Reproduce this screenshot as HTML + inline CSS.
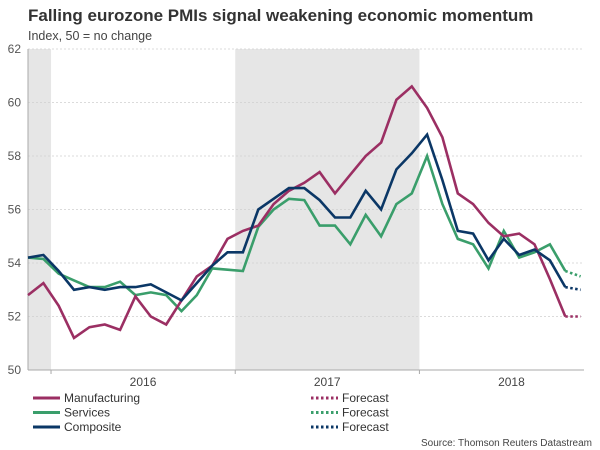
<!DOCTYPE html>
<html><head><meta charset="utf-8"><style>
body{margin:0;background:#fff;font-family:"Liberation Sans",sans-serif;}
#wrap{position:relative;width:600px;height:450px;overflow:hidden}
</style></head><body>
<div id="wrap">
<svg id="svg" width="600" height="450"></svg>
</div>
<script>
const yTicks=[50,52,54,56,58,60,62];
const years=["2016","2017","2018"];
const manufacturing=[52.8,53.25,52.4,51.2,51.6,51.7,51.5,52.75,52.0,51.7,52.6,53.5,53.9,54.9,55.2,55.4,56.2,56.7,57.0,57.4,56.6,57.3,58.0,58.5,60.1,60.6,59.8,58.7,56.6,56.2,55.5,55.0,55.1,54.7,53.4,52.0];
const services=[54.2,54.15,53.6,53.35,53.1,53.1,53.3,52.8,52.9,52.8,52.2,52.8,53.8,53.75,53.7,55.35,56.0,56.4,56.35,55.4,55.4,54.7,55.8,55.0,56.2,56.6,58.0,56.2,54.9,54.7,53.8,55.2,54.2,54.4,54.7,53.7];
const composite=[54.2,54.3,53.7,53.0,53.1,53.0,53.1,53.1,53.2,52.9,52.6,53.25,53.9,54.4,54.4,56.0,56.4,56.8,56.8,56.35,55.7,55.7,56.7,56.0,57.5,58.1,58.8,57.1,55.2,55.1,54.1,54.9,54.3,54.5,54.1,53.1];
const mfgForecast=[52.0,52.0];
const servForecast=[53.7,53.5];
const compForecast=[53.1,53.0];

const svg=document.getElementById('svg');
const NS="http://www.w3.org/2000/svg";
const X0=28,DX=15.35,Y0=370,YT=49,XR=584;
const x=i=>X0+i*DX;
const y=v=>Y0-(v-50)*(Y0-YT)/12;
function mk(t,a,p){const e=document.createElementNS(NS,t);for(const k in a)e.setAttribute(k,a[k]);(p||svg).appendChild(e);return e;}

// shaded bands (years 2015 partial, 2017)
const bands=[[x(-1)+DX/2<X0?X0:x(-1),x(1.5)],[x(13.5),x(25.5)]];
bands.forEach(b=>{const r=mk('rect',{x:b[0],y:YT,width:b[1]-b[0],height:Y0-YT,fill:'#e6e6e6'});

});

// gridlines & y labels
yTicks.forEach(v=>{
 if(v>50){const g=mk('line',{x1:X0,x2:XR,y1:y(v),y2:y(v),stroke:'#cfcfcf','stroke-dasharray':'2,2','stroke-width':0.8});
 
 }
 const t=mk('text',{x:21,y:y(v)+4,'text-anchor':'end','font-size':12,fill:'#555'});t.textContent=v;
 
 
});
// axes
mk('line',{x1:X0,x2:X0,y1:YT,y2:Y0,stroke:'#aaa','stroke-width':1});
const ax=mk('line',{x1:X0,x2:XR,y1:Y0,y2:Y0,stroke:'#aaa','stroke-width':1});


years.forEach((yr,k)=>{
 const tx=x(1.5+12*k);
 mk('line',{x1:tx,x2:tx,y1:Y0,y2:Y0+4,stroke:'#aaa'});
 const t=mk('text',{x:tx+92,y:386,'text-anchor':'middle','font-size':12,fill:'#444'});t.textContent=yr;
 
 
});
if(true){const tx=x(37.5);}

function series(vals,fc,color,name){
 const pts=vals.map((v,i)=>x(i).toFixed(1)+','+y(v).toFixed(1)).join(' ');
 const l=mk('polyline',{points:pts,fill:'none',stroke:color,'stroke-width':2.6,'stroke-linejoin':'miter'});
 
 
 const n=vals.length-1;
 const fp=fc.map((v,i)=>x(n+i).toFixed(1)+','+y(v).toFixed(1)).join(' ');
 const f=mk('polyline',{points:fp,fill:'none',stroke:color,'stroke-width':2.6,'stroke-dasharray':'2.5,2.5'});
 
 
}
series(services,servForecast,'#3a9e6b','services');
series(manufacturing,mfgForecast,'#9b2f63','manufacturing');
series(composite,compForecast,'#0b3766','composite');

// legend
const leg=[['Manufacturing','#9b2f63'],['Services','#3a9e6b'],['Composite','#0b3766']];
leg.forEach((d,k)=>{
 const yy=402+k*14.5;
 const g=mk('g',{});
 
 
 mk('line',{x1:33,x2:60,y1:yy-4,y2:yy-4,stroke:d[1],'stroke-width':3},g);
 const t=mk('text',{x:64,y:yy,'font-size':12,fill:'#333'},g);t.textContent=d[0];
 const g2=mk('g',{});
 
 
 mk('line',{x1:311,x2:338,y1:yy-4,y2:yy-4,stroke:d[1],'stroke-width':3,'stroke-dasharray':'2.5,2.5'},g2);
 const t2=mk('text',{x:342,y:yy,'font-size':12,fill:'#333'},g2);t2.textContent='Forecast';
});
const ti=mk('text',{x:28,y:21,'font-size':17,'font-weight':'bold',fill:'#333'});ti.textContent='Falling eurozone PMIs signal weakening economic momentum';


const st=mk('text',{x:28,y:40,'font-size':12.5,fill:'#444'});st.textContent='Index, 50 = no change';


const so=mk('text',{x:592,y:446,'text-anchor':'end','font-size':10,fill:'#444'});so.textContent='Source: Thomson Reuters Datastream';


</script>
</body></html>
